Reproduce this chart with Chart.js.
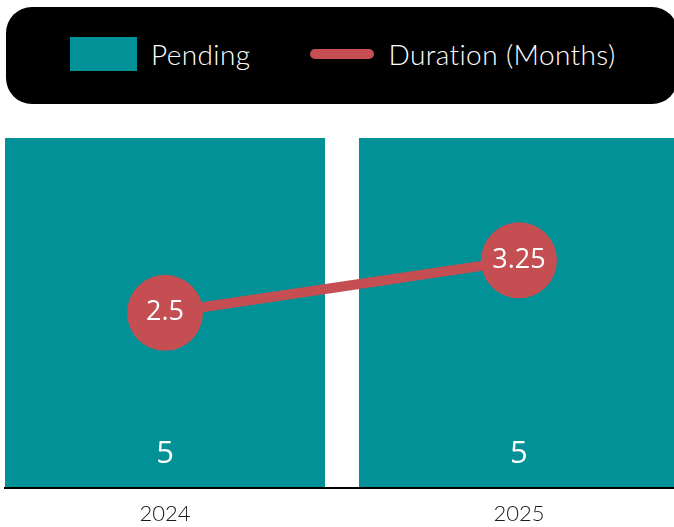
<!DOCTYPE html>
<html>
<head>
<meta charset="utf-8">
<script src="https://cdn.jsdelivr.net/npm/chart.js@4"></script>
<style>
  body { margin: 0; background: #fff; }
  #wrap { position: relative; width: 674px; height: 527px; overflow: hidden; }
  #legend {
    position: absolute; left: 6px; top: 7px; width: 672px; height: 97px;
    background: #000; border-radius: 26px;
    display: flex; align-items: center; padding-left: 64px; padding-bottom: 3px; box-sizing: border-box;
    font-family: Lato, "Open Sans", sans-serif; font-weight: 300; font-size: 28px; color: #fff;
    letter-spacing: 0.4px;
  }
  .item { display: flex; align-items: center; margin-right: 60px; }
  .swatch { margin-right: 14px; }
</style>
</head>
<body>
<div id="wrap">
  <canvas id="chart" width="674" height="543"></canvas>
  <div id="legend"></div>
</div>
<script>
const years = ['2024', '2025'];
const pending = [5, 5];
const duration = [2.5, 3.25];

const teal = '#029196';
const red = '#C44E52';

// legend (html, drawn in the black box)
const legend = document.getElementById('legend');
[
  { label: 'Pending', kind: 'bar', color: teal },
  { label: 'Duration (Months)', kind: 'line', color: red }
].forEach(it => {
  const item = document.createElement('div');
  item.className = 'item';
  const sw = document.createElement('span');
  sw.className = 'swatch';
  sw.style.background = it.color;
  if (it.kind === 'bar') {
    sw.style.width = '67px'; sw.style.height = '34px';
  } else {
    sw.style.width = '64px'; sw.style.height = '10px'; sw.style.borderRadius = '5px';
  }
  const txt = document.createElement('span');
  txt.textContent = it.label;
  item.appendChild(sw);
  item.appendChild(txt);
  legend.appendChild(item);
});

const valueLabels = {
  id: 'valueLabels',
  afterDatasetsDraw(chart) {
    const ctx = chart.ctx;
    ctx.save();
    ctx.fillStyle = '#fff';
    ctx.textAlign = 'center';
    ctx.textBaseline = 'middle';
    chart.data.datasets.forEach((ds, i) => {
      const meta = chart.getDatasetMeta(i);
      meta.data.forEach((el, j) => {
        const v = ds.data[j].y;
        if (ds.type === 'bar') {
          ctx.font = '31px "Open Sans", Lato, sans-serif';
          ctx.fillText(v, el.x, el.base - 33);
        } else {
          ctx.font = '27px "Open Sans", Lato, sans-serif';
          ctx.fillText(v, el.x, el.y);
        }
      });
    });
    ctx.restore();
  }
};

new Chart(document.getElementById('chart'), {
  data: {
    datasets: [
      {
        type: 'line',
        label: 'Duration (Months)',
        data: duration.map((v, i) => ({ x: i, y: v })),
        borderColor: red,
        backgroundColor: red,
        borderWidth: 10,
        pointRadius: 38,
        pointHoverRadius: 38,
        pointBorderWidth: 0,
        pointBackgroundColor: red,
        order: 0
      },
      {
        type: 'bar',
        label: 'Pending',
        data: pending.map((v, i) => ({ x: i, y: v })),
        backgroundColor: teal,
        categoryPercentage: 1,
        barPercentage: 0.904,
        order: 1
      }
    ]
  },
  options: {
    responsive: false,
    animation: false,
    layout: { autoPadding: false, padding: { top: 138, left: 5, right: 0, bottom: 3 } },
    plugins: { legend: { display: false }, tooltip: { enabled: false } },
    scales: {
      x: {
        type: 'linear',
        min: -0.452,
        max: 1.438,
        offset: false,
        grid: { display: false, drawTicks: false, offset: false },
        border: { display: true, color: '#000', width: 2, z: 1 },
        afterBuildTicks: (scale) => { scale.ticks = years.map((y, i) => ({ value: i })); },
        ticks: {
          padding: 13,
          color: '#1a1a1a',
          font: { family: 'Lato', size: 22, weight: 300 },
          callback: (v) => years[v]
        }
      },
      y: { display: false, min: 0, max: 5 }
    }
  },
  plugins: [valueLabels]
});
</script>
</body>
</html>
